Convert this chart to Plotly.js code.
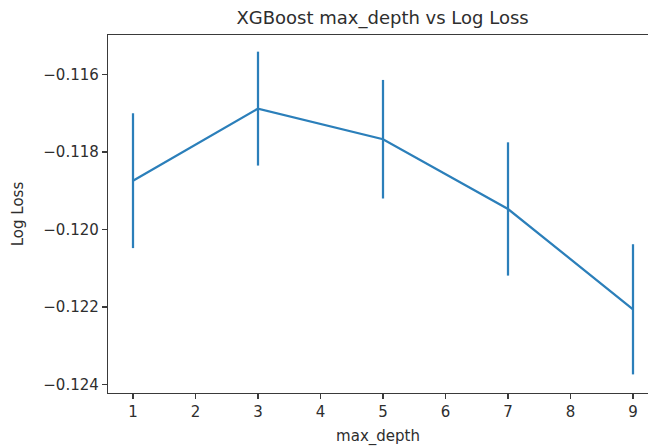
<!DOCTYPE html>
<html>
<head>
<meta charset="utf-8">
<script src="https://cdn.plot.ly/plotly-3.0.1.min.js"></script>
<style>
  html, body { margin: 0; padding: 0; background: #fff; overflow: hidden; }
  #chart { width: 648px; height: 448px; }
</style>
</head>
<body>
<div id="chart"></div>
<script>
// Mean log loss (negated) per XGBoost max_depth, with std deviation as error bars
const maxDepth = [1, 3, 5, 7, 9];
const meanLogLoss = [-0.11874, -0.11688, -0.11767, -0.11947, -0.12206];
const stdLogLoss = [0.00174, 0.00147, 0.00153, 0.00172, 0.00168];
const xTicks = [1, 2, 3, 4, 5, 6, 7, 8, 9];
const yTicks = [-0.124, -0.122, -0.120, -0.118, -0.116];

const blue = '#2b7fba';
const axisColor = '#3a3a3a';
const textColor = '#2e2e2e';
const font = 'DejaVu Sans, sans-serif';

const trace = {
  x: maxDepth,
  y: meanLogLoss,
  type: 'scatter',
  mode: 'lines',
  line: { color: blue, width: 2.25 },
  error_y: {
    type: 'data',
    array: stdLogLoss,
    visible: true,
    color: blue,
    thickness: 2.25,
    width: 0
  },
  hoverinfo: 'x+y'
};

const layout = {
  width: 648,
  height: 448,
  margin: { l: 108, r: 0, t: 35, b: 55, pad: 0 },
  paper_bgcolor: '#ffffff',
  plot_bgcolor: '#ffffff',
  showlegend: false,
  font: { family: font, size: 15, color: textColor },
  title: {
    text: 'XGBoost max_depth vs Log Loss',
    font: { family: font, size: 18, color: textColor },
    xref: 'container', yref: 'container',
    x: 382.6 / 648, xanchor: 'center',
    y: 1 - 18 / 448, yanchor: 'middle'
  },
  xaxis: {
    range: [0.6, 0.6 + (648 - 108) / 62.5],
    tickmode: 'array',
    tickvals: xTicks,
    ticktext: xTicks.map(String),
    ticks: 'outside', ticklen: 5, tickwidth: 1.2, tickcolor: axisColor,
    showline: true, linecolor: axisColor, linewidth: 1.2, mirror: true,
    showgrid: false, zeroline: false,
    tickfont: { family: font, size: 15, color: textColor },
    title: { text: 'max_depth', standoff: 10, font: { family: font, size: 15, color: textColor } }
  },
  yaxis: {
    range: [-0.12422, -0.11498],
    tickmode: 'array',
    tickvals: yTicks,
    ticktext: yTicks.map(v => '\u2212' + Math.abs(v).toFixed(3)),
    ticks: 'outside', ticklen: 5, tickwidth: 1.2, tickcolor: axisColor,
    showline: true, linecolor: axisColor, linewidth: 1.2, mirror: false,
    showgrid: false, zeroline: false,
    tickfont: { family: font, size: 15, color: textColor },
    title: { text: 'Log Loss', standoff: 16, font: { family: font, size: 15, color: textColor } }
  }
};

Plotly.newPlot('chart', [trace], layout, { staticPlot: true, displayModeBar: false });
</script>
</body>
</html>
